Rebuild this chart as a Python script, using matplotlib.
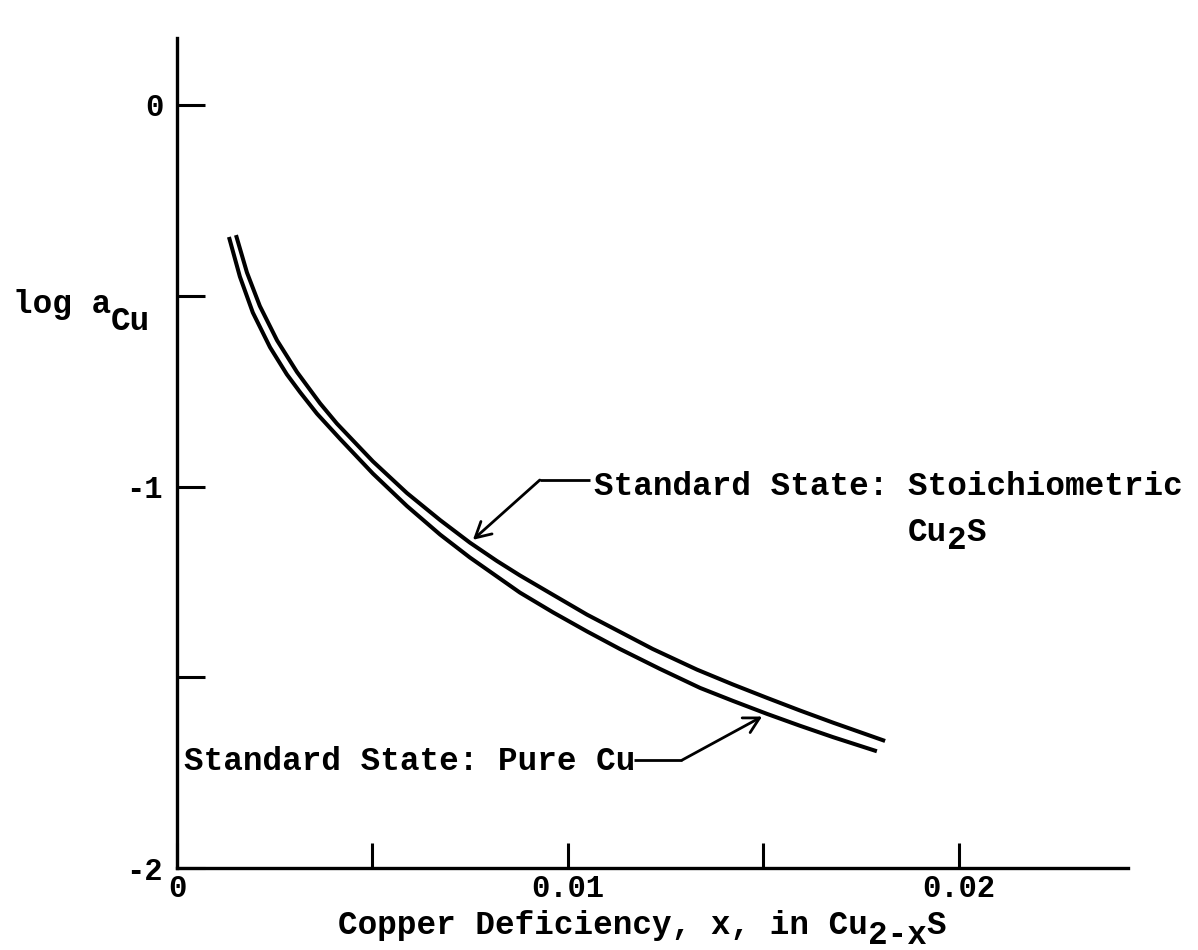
import matplotlib.pyplot as plt

# log a_Cu als functie van het kopertekort x in Cu(2-x)S, twee standaardtoestanden
x_pure_cu = [0.00133, 0.00161, 0.00194, 0.00238, 0.00281, 0.00315, 0.00358, 0.00417,
             0.00501, 0.00588, 0.00673, 0.00749, 0.00877, 0.00962, 0.01049, 0.01133,
             0.01235, 0.01338, 0.01422, 0.01509, 0.01593, 0.01678, 0.01790]
log_a_pure_cu = [-0.346, -0.450, -0.544, -0.635, -0.706, -0.753, -0.809, -0.875,
                 -0.966, -1.051, -1.126, -1.186, -1.278, -1.330, -1.380, -1.426,
                 -1.478, -1.528, -1.562, -1.596, -1.627, -1.657, -1.694]

x_stoich = [0.00151, 0.00179, 0.00212, 0.00256, 0.00307, 0.00366, 0.00409, 0.00501,
            0.00588, 0.00673, 0.00749, 0.00818, 0.00877, 0.00962, 0.01049, 0.01133,
            0.01217, 0.01330, 0.01422, 0.01509, 0.01593, 0.01678, 0.01811]
log_a_stoich = [-0.341, -0.439, -0.527, -0.617, -0.700, -0.782, -0.835, -0.934,
                -1.017, -1.088, -1.147, -1.195, -1.233, -1.284, -1.336, -1.381,
                -1.426, -1.480, -1.519, -1.554, -1.587, -1.619, -1.667]

x_ticks = [0.0, 0.01, 0.02]
x_tick_labels = ["0", "0.01", "0.02"]
x_minor_ticks = [0.005, 0.015]
y_ticks = [-2, -1, 0]
y_tick_labels = ["-2", "-1", "0"]
y_minor_ticks = [-1.5, -0.5]

FONT = dict(family=["Liberation Mono", "DejaVu Sans Mono"], weight="bold", size=23.5)
TICK_FONT = dict(FONT, size=22)
LW_CURVE = 2.9
LW_AXIS = 2.4
ARROW = dict(arrowstyle="->,head_length=0.55,head_width=0.3", lw=2, color="black",
             mutation_scale=20, shrinkA=0)

plt.rcParams["axes.unicode_minus"] = False


def chained_text(ax, x, y, pieces, xycoords):
    """Zet tekststukken achter elkaar; elk stuk kan verlaagd worden (subscript)"""
    first = ax.annotate(pieces[0][0], xy=(x, y), xycoords=xycoords,
                        ha="left", va="baseline", **FONT)
    prev = first
    for text, drop in pieces[1:]:
        prev = ax.annotate(text, xy=(1, 0), xycoords=(prev, first),
                           xytext=(0, -drop), textcoords="offset points",
                           ha="left", va="bottom", **FONT)
    return first


fig = plt.figure(figsize=(11.98, 9.5), dpi=100)
ax = fig.add_axes([0.1477, 0.0863, 0.7938, 0.8737])

for xs, ys in [(x_pure_cu, log_a_pure_cu), (x_stoich, log_a_stoich)]:
    ax.plot(xs, ys, color="black", lw=LW_CURVE,
            solid_capstyle="butt", solid_joinstyle="round")

ax.set_xlim(0, 0.02432)
ax.set_ylim(-2, 0.1756)

for side in ["top", "right"]:
    ax.spines[side].set_visible(False)
for side in ["left", "bottom"]:
    ax.spines[side].set_linewidth(LW_AXIS)

ax.set_xticks(x_ticks)
ax.set_xticklabels(x_tick_labels, **TICK_FONT)
ax.set_xticks(x_minor_ticks, minor=True)
ax.set_yticks(y_ticks)
ax.set_yticklabels(y_tick_labels, **TICK_FONT)
ax.set_yticks(y_minor_ticks, minor=True)

ax.tick_params(axis="x", which="both", direction="in", length=18, width=2.2, pad=4)
ax.tick_params(axis="y", which="both", direction="in", length=20, width=2.2, pad=10)

# aslabels met subscripts op volle grootte, zoals van een schrijfmachine
chained_text(ax, 338 / 1198, 1 - 934 / 950,
             [("Copper Deficiency, x, in Cu", 0), ("2-x", 7), ("S", 0)],
             "figure fraction")
chained_text(ax, 13 / 1198, 1 - 313 / 950,
             [("log a", 0), ("Cu", 12)], "figure fraction")

# pijl naar de curve met stoichiometrisch Cu2S als standaardtoestand
i = 10
y_lead = -0.983
ax.plot([0.00928, 0.01056], [y_lead, y_lead], color="black", lw=2, solid_capstyle="butt")
ax.annotate("", xy=(x_stoich[i], log_a_stoich[i]), xytext=(0.00928, y_lead),
            arrowprops=dict(ARROW, shrinkB=3))
label = "Standard State: Stoichiometric"
t = ax.text(0.01066, -1.022, label, ha="left", va="baseline", **FONT)
# Cu2S op de volgende regel, onder de S van Stoichiometric
col = label.index("Stoich") / len(label)
second = ax.annotate("Cu", xy=(col, 0), xycoords=t, xytext=(0, -33),
                     textcoords="offset points", ha="left", va="bottom", **FONT)
sub = ax.annotate("2", xy=(1, 0), xycoords=(second, second), xytext=(0, -6),
                  textcoords="offset points", ha="left", va="bottom", **FONT)
ax.annotate("S", xy=(1, 0), xycoords=(sub, second), ha="left", va="bottom", **FONT)

# pijl naar de curve met zuiver Cu als standaardtoestand
j = 19
y_lead = -1.717
ax.plot([0.01170, 0.01292], [y_lead, y_lead], color="black", lw=2, solid_capstyle="butt")
ax.annotate("", xy=(x_pure_cu[j], log_a_pure_cu[j]), xytext=(0.01292, y_lead),
            arrowprops=dict(ARROW, shrinkB=4))
ax.text(0.00018, -1.743, "Standard State: Pure Cu", ha="left", va="baseline", **FONT)

fig.savefig("out.png", dpi=100)
